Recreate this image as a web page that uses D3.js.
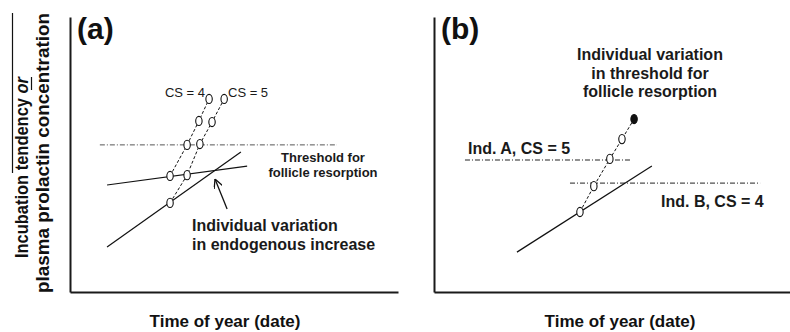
<!DOCTYPE html>
<html>
<head>
<meta charset="utf-8">
<script src="https://cdn.jsdelivr.net/npm/d3@7"></script>
<style>
  body { margin: 0; background: #fff; }
  svg { display: block; font-family: "Liberation Sans", Arial, sans-serif; }
</style>
</head>
<body>
<svg width="790" height="332"></svg>
<script>
// panel (a) values, in arbitrary units 0-100 (time on x, level on y)
var shallowA = [[11.3, 38.9], [54.0, 45.8]];
var steepA = [[11.3, 16.4], [52.1, 50.9]];
var thresholdA = [[9.1, 53.5], [81.4, 53.5]];
var cs4 = [[30.5, 42.2], [35.7, 53.5], [39.3, 62.2], [42.4, 70.2]];
var cs5 = [[30.5, 32.4], [35.7, 42.5], [39.6, 53.8], [43.3, 61.8], [47.0, 70.2]];
var arrowA = [[47.9, 30.2], [44.2, 41.1]];

// panel (b) values
var steepB = [[23.3, 14.5], [61.2, 45.8]];
var seriesB = [[41.0, 29.1], [44.9, 38.5], [49.4, 48.4], [52.8, 55.6], [56.2, 62.9]];
var indA = [[8.7, 48.0], [55.3, 48.0]];
var indB = [[38.2, 39.6], [91.6, 39.6]];

var panelLabels = ["(a)", "(b)"];
var xTitle = "Time of year (date)";

var svg = d3.select("svg");

var yScale = d3.scaleLinear().domain([0, 100]).range([292, 17]);
var xA = d3.scaleLinear().domain([0, 100]).range([70, 398]);
var xB = d3.scaleLinear().domain([0, 100]).range([434, 790]);

// arrow head
svg.append("defs").append("marker")
    .attr("id", "arrow")
    .attr("viewBox", "0 0 10 10")
    .attr("refX", 10).attr("refY", 5)
    .attr("markerWidth", 9).attr("markerHeight", 9)
    .attr("markerUnits", "userSpaceOnUse")
    .attr("orient", "auto")
    .append("path")
    .attr("d", "M0,0 L10,5 L0,10")
    .attr("fill", "none")
    .attr("stroke", "#111")
    .attr("stroke-width", 1.4);

function drawAxes(x, label) {
    var g = svg.append("g");
    g.append("g")
        .attr("transform", "translate(0," + yScale(0) + ")")
        .call(d3.axisBottom(x).ticks(0).tickSizeOuter(0));
    g.append("g")
        .attr("transform", "translate(" + x(0) + ",0)")
        .call(d3.axisLeft(yScale).ticks(0).tickSizeOuter(0));
    g.selectAll(".domain").attr("stroke", "#1a1a1a").attr("stroke-width", 2);

    svg.append("text")
        .attr("x", x(0) + 7).attr("y", 39)
        .attr("font-size", 30).attr("font-weight", "bold")
        .attr("fill", "#111")
        .text(label);
}

function drawLine(x, pts, style) {
    var line = d3.line().x(function(d) { return x(d[0]); }).y(function(d) { return yScale(d[1]); });
    return svg.append("path")
        .datum(pts)
        .attr("d", line)
        .attr("fill", "none")
        .attr("stroke", style.color || "#111")
        .attr("stroke-width", style.width || 1.2)
        .attr("stroke-dasharray", style.dash || null);
}

function drawPoints(x, pts, filledLast) {
    svg.append("g").selectAll("ellipse").data(pts).enter().append("ellipse")
        .attr("cx", function(d) { return x(d[0]); })
        .attr("cy", function(d) { return yScale(d[1]); })
        .attr("rx", 3.2)
        .attr("ry", 4.6)
        .attr("fill", function(d, i) { return (filledLast && i == pts.length - 1) ? "#111" : "#fff"; })
        .attr("stroke", "#111")
        .attr("stroke-width", 1.1);
}

function addText(x, y, lines, opts) {
    var lead = opts.lead || 0;
    var t = svg.append("text")
        .attr("text-anchor", opts.anchor || "start")
        .attr("font-size", opts.size)
        .attr("font-weight", opts.weight || "bold")
        .attr("fill", "#1a1a1a");
    lines.forEach(function(s, i) {
        t.append("tspan").attr("x", x).attr("y", y + i * lead).text(s);
    });
}

// ---- panel (a)
drawAxes(xA, panelLabels[0]);
drawLine(xA, thresholdA, {color: "#555", width: 1, dash: "5,2,1,2"});
drawLine(xA, shallowA, {});
drawLine(xA, steepA, {});
drawLine(xA, cs4, {width: 1, dash: "3,2"});
drawLine(xA, cs5, {width: 1, dash: "3,2"});
drawPoints(xA, cs4, false);
drawPoints(xA, cs5, false);
drawLine(xA, arrowA, {width: 1.3}).attr("marker-end", "url(#arrow)");

addText(205, 97, ["CS = 4"], {size: 13, weight: "normal", anchor: "end"});
addText(228, 97, ["CS = 5"], {size: 13, weight: "normal"});
addText(323, 162, ["Threshold for", "follicle resorption"], {size: 13, lead: 15, anchor: "middle"});
addText(192, 231, ["Individual variation", "in endogenous increase"], {size: 16, lead: 18.5});

// ---- panel (b)
drawAxes(xB, panelLabels[1]);
drawLine(xB, indA, {color: "#222", width: 1, dash: "5,2,1,2"});
drawLine(xB, indB, {color: "#222", width: 1, dash: "5,2,1,2"});
drawLine(xB, steepB, {});
drawLine(xB, seriesB, {width: 1, dash: "3,2"});
drawPoints(xB, seriesB, true);

addText(650, 60, ["Individual variation", "in threshold for", "follicle resorption"], {size: 16, lead: 18.5, anchor: "middle"});
addText(468, 154, ["Ind. A, CS = 5"], {size: 16});
addText(661, 207, ["Ind. B, CS = 4"], {size: 16});

// ---- axis titles
[xA, xB].forEach(function(x, i) {
    svg.append("text")
        .attr("x", i == 0 ? 225 : 620).attr("y", 327)
        .attr("text-anchor", "middle")
        .attr("font-size", 17).attr("font-weight", "bold")
        .attr("fill", "#111")
        .text(xTitle);
});

// y title, two rotated lines
var yt1 = svg.append("text")
    .attr("transform", "translate(28,258) rotate(-90)")
    .attr("font-size", 18).attr("font-weight", "bold").attr("fill", "#111")
    .attr("textLength", 181).attr("lengthAdjust", "spacingAndGlyphs");
yt1.append("tspan").text("Incubation tendency ");
yt1.append("tspan").attr("font-style", "italic").text("or");

svg.append("text")
    .attr("transform", "translate(49,293) rotate(-90)")
    .attr("font-size", 18).attr("font-weight", "bold").attr("fill", "#111")
    .attr("textLength", 280).attr("lengthAdjust", "spacingAndGlyphs")
    .text("plasma prolactin concentration");

// over- and underline in the y title
svg.append("line").attr("x1", 12.5).attr("x2", 12.5).attr("y1", 173).attr("y2", 13)
    .attr("stroke", "#111").attr("stroke-width", 1.2);
svg.append("line").attr("x1", 31.5).attr("x2", 31.5).attr("y1", 90).attr("y2", 77)
    .attr("stroke", "#111").attr("stroke-width", 1.2);
</script>
</body>
</html>
